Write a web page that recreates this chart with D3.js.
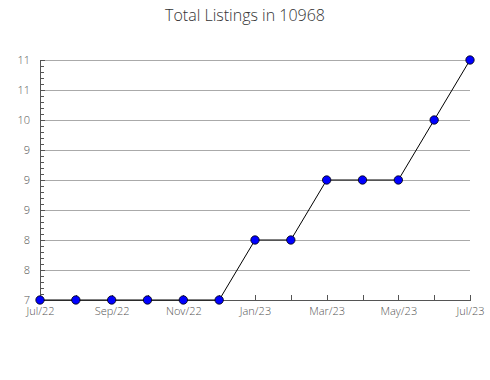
<!DOCTYPE html>
<html>
<head>
<meta charset="utf-8">
<script src="https://cdn.jsdelivr.net/npm/d3@7"></script>
<style>
  body { margin: 0; background: #fff; }
  text { font-family: "Open Sans", sans-serif; }
</style>
</head>
<body>
<div id="chart"></div>
<script>
const months = ["Jul/22", "Aug/22", "Sep/22", "Oct/22", "Nov/22", "Dec/22", "Jan/23",
    "Feb/23", "Mar/23", "Apr/23", "May/23", "Jun/23", "Jul/23"];
const listings = [7, 7, 7, 7, 7, 7, 8, 8, 9, 9, 9, 10, 11];
const yTicks = [7, 7.5, 8, 8.5, 9, 9.5, 10, 10.5, 11];
const yLabels = ["7", "8", "8", "9", "9", "9", "10", "11", "11"];

const width = 490, height = 380;
const margin = {top: 60, right: 20, bottom: 80, left: 40};

const svg = d3.select("#chart").append("svg")
    .attr("width", width)
    .attr("height", height);

svg.append("text")
    .attr("x", 245)
    .attr("y", 21)
    .attr("text-anchor", "middle")
    .attr("font-size", 16)
    .attr("font-weight", 300)
    .attr("fill", "#333")
    .text("Total Listings in 10968");

const x = d3.scalePoint()
    .domain(months)
    .range([margin.left, width - margin.right]);

const y = d3.scaleLinear()
    .domain([7, 11])
    .range([height - margin.bottom, margin.top]);

// grid lines
svg.append("g")
    .selectAll("line")
    .data(yTicks.slice(1))
    .join("line")
    .attr("x1", margin.left)
    .attr("x2", width - margin.right)
    .attr("y1", d => y(d))
    .attr("y2", d => y(d))
    .attr("stroke", "#aaa")
    .attr("stroke-width", 1)
    .attr("shape-rendering", "crispEdges");

// minor y ticks
const minor = d3.range(7, 11.0001, 0.1);
svg.append("g")
    .selectAll("line")
    .data(minor)
    .join("line")
    .attr("x1", margin.left)
    .attr("x2", margin.left + 4)
    .attr("y1", d => Math.round(y(d)))
    .attr("y2", d => Math.round(y(d)))
    .attr("stroke", "#555")
    .attr("shape-rendering", "crispEdges");

const yAxis = svg.append("g")
    .attr("transform", `translate(${margin.left},0)`)
    .call(d3.axisLeft(y)
        .tickValues(yTicks)
        .tickFormat((d, i) => yLabels[i])
        .tickSizeInner(-5)
        .tickSizeOuter(0)
        .tickPadding(10));
yAxis.select(".domain").attr("stroke", "#555").attr("shape-rendering", "crispEdges");
yAxis.selectAll(".tick line").attr("stroke", "#555").attr("shape-rendering", "crispEdges");
yAxis.selectAll("text")
    .attr("font-size", 11)
    .attr("font-weight", 300)
    .attr("fill", "#555")
    .attr("font-family", "Open Sans, sans-serif");

const xAxis = svg.append("g")
    .attr("transform", `translate(0,${height - margin.bottom})`)
    .call(d3.axisBottom(x)
        .tickFormat((d, i) => i % 2 === 0 ? d : "")
        .tickSizeInner(-5)
        .tickSizeOuter(0)
        .tickPadding(7));
xAxis.select(".domain").attr("stroke", "#555").attr("shape-rendering", "crispEdges");
xAxis.selectAll(".tick line").attr("stroke", "#555").attr("shape-rendering", "crispEdges");
xAxis.selectAll("text")
    .attr("font-size", 11)
    .attr("font-weight", 300)
    .attr("fill", "#555")
    .attr("font-family", "Open Sans, sans-serif");

const line = d3.line()
    .x((d, i) => x(months[i]))
    .y(d => y(d));

svg.append("path")
    .datum(listings)
    .attr("fill", "none")
    .attr("stroke", "#000")
    .attr("stroke-width", 1)
    .attr("d", line);

svg.append("g")
    .selectAll("circle")
    .data(listings)
    .join("circle")
    .attr("cx", (d, i) => x(months[i]))
    .attr("cy", d => y(d))
    .attr("r", 4.2)
    .attr("fill", "#0000ff")
    .attr("stroke", "#000")
    .attr("stroke-width", 0.8);
</script>
</body>
</html>
